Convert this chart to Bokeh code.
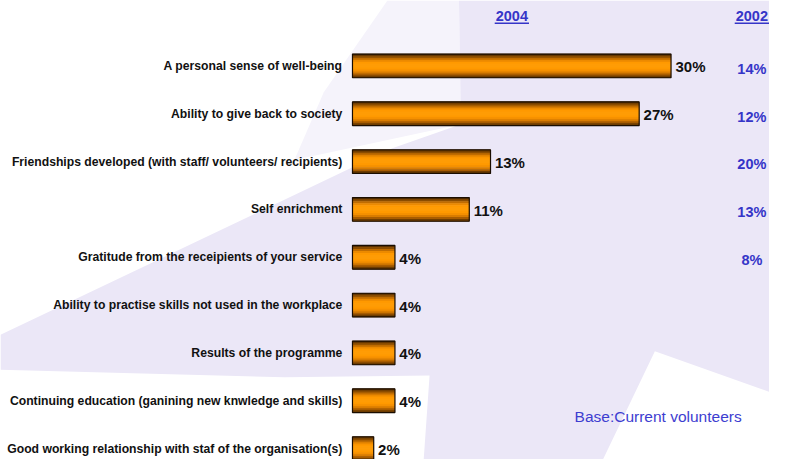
from bokeh.plotting import figure
from bokeh.models import Range1d
from bokeh.core.properties import value
from bokeh.embed import file_html
from bokeh.resources import INLINE

# ---------------- data ----------------
categories = [
    "A personal sense of well-being",
    "Ability to give back to society",
    "Friendships developed (with staff/ volunteers/ recipients)",
    "Self enrichment",
    "Gratitude from the receipients of your service",
    "Ability to practise skills not used in the workplace",
    "Results of the programme",
    "Continuing education (ganining new knwledge and skills)",
    "Good working relationship with staf of the organisation(s)",
]
values_2004 = [30, 27, 13, 11, 4, 4, 4, 4, 2]
values_2002 = [14, 12, 20, 13, 8]
header_2004 = "2004"
header_2002 = "2002"
base_note = "Base:Current volunteers"

# ---------------- layout helpers (reference pixel space -> data) ----------------
REF_W, REF_H = 785, 475
X0_PX, PX_PER_PCT = 359.3, 10.84
ROW0_PX, ROW_PX = 67.7, 49.5

def xd(px):
    return (px - X0_PX) / PX_PER_PCT

def yd(px):
    return (px - ROW0_PX) / ROW_PX

W, H = 769, 459
p = figure(width=W, height=H, output_backend="svg", toolbar_location=None,
           x_range=Range1d(xd(0), xd(REF_W)), y_range=Range1d(yd(REF_H), yd(0)),
           min_border=0, background_fill_color="white", border_fill_color="white")
p.axis.visible = False
p.grid.visible = False
p.outline_line_color = None

FONT = value("Liberation Sans")
BLUE = "#3535c8"

# ---------------- background star (decoration) ----------------
soft_px = [(300, 165), (470, 128), (468, 0), (395, 0), (330, 95)]
p.patch([xd(a) for a, b in soft_px], [yd(b) for a, b in soft_px],
        fill_color="#f5f3fb", line_color=None)
star_px = [(468, 0), (785, 0), (785, 405), (668, 363), (615, 475), (432, 475),
           (438, 388), (290, 390), (0, 382), (0, 346), (400, 153), (470, 128)]
p.patch([xd(a) for a, b in star_px], [yd(b) for a, b in star_px],
        fill_color="#ebe7f7", line_color=None)

# ---------------- bars with vertical gradient ----------------
rows = list(range(len(categories)))
bar_h = 24.5 / ROW_PX
grad = ["#5a3000", "#8a4c00", "#c06c00", "#ec8a00", "#ff9900", "#ff9c05",
        "#ff9c05", "#ff9900", "#f59000", "#d97c00", "#a85c00", "#6e3c00"]
n = len(grad)
band = bar_h / n
for k, col in enumerate(grad):
    off = -bar_h / 2 + band * (k + 0.5)
    p.hbar(y=[r + off for r in rows], height=band * 1.35, left=0, right=values_2004,
           fill_color=col, line_color=None)
p.hbar(y=rows, height=bar_h, left=0, right=values_2004, fill_color=None,
       line_color="#1a0d00", line_width=1.2)

# category labels
p.text(x=[xd(349)] * len(rows), y=rows, text=categories, text_align="right",
       text_baseline="middle", text_font=FONT, text_font_style="bold",
       text_font_size="12.2px", text_color="#111111")

# 2004 value labels
p.text(x=[v + 4.5 / PX_PER_PCT for v in values_2004], y=[r + 0.02 for r in rows],
       text=[f"{v}%" for v in values_2004], text_align="left", text_baseline="middle",
       text_font=FONT, text_font_style="bold", text_font_size="15px",
       text_color="#111111")

# 2002 value column
rows02 = rows[:len(values_2002)]
p.text(x=[xd(767)] * len(values_2002), y=[r + 0.06 for r in rows02],
       text=[f"{v}%" for v in values_2002], text_align="center", text_baseline="middle",
       text_font=FONT, text_font_style="bold", text_font_size="14.5px", text_color=BLUE)

# headers (underlined)
hx = [xd(522), xd(767)]
p.text(x=hx, y=[yd(16)] * 2, text=[header_2004, header_2002], text_align="center",
       text_baseline="middle", text_font=FONT, text_font_style="bold",
       text_font_size="14.5px", text_color=BLUE)
half = 17.5 / PX_PER_PCT
p.segment(x0=[x - half for x in hx], x1=[x + half for x in hx],
          y0=[yd(23.5)] * 2, y1=[yd(23.5)] * 2, line_color=BLUE, line_width=1.5)

# base note
p.text(x=[xd(586)], y=[yd(431)], text=[base_note], text_align="left",
       text_baseline="middle", text_font=FONT, text_font_size="15.5px",
       text_color="#3d3dd0")

open("out.html", "w").write(file_html(p, INLINE))
